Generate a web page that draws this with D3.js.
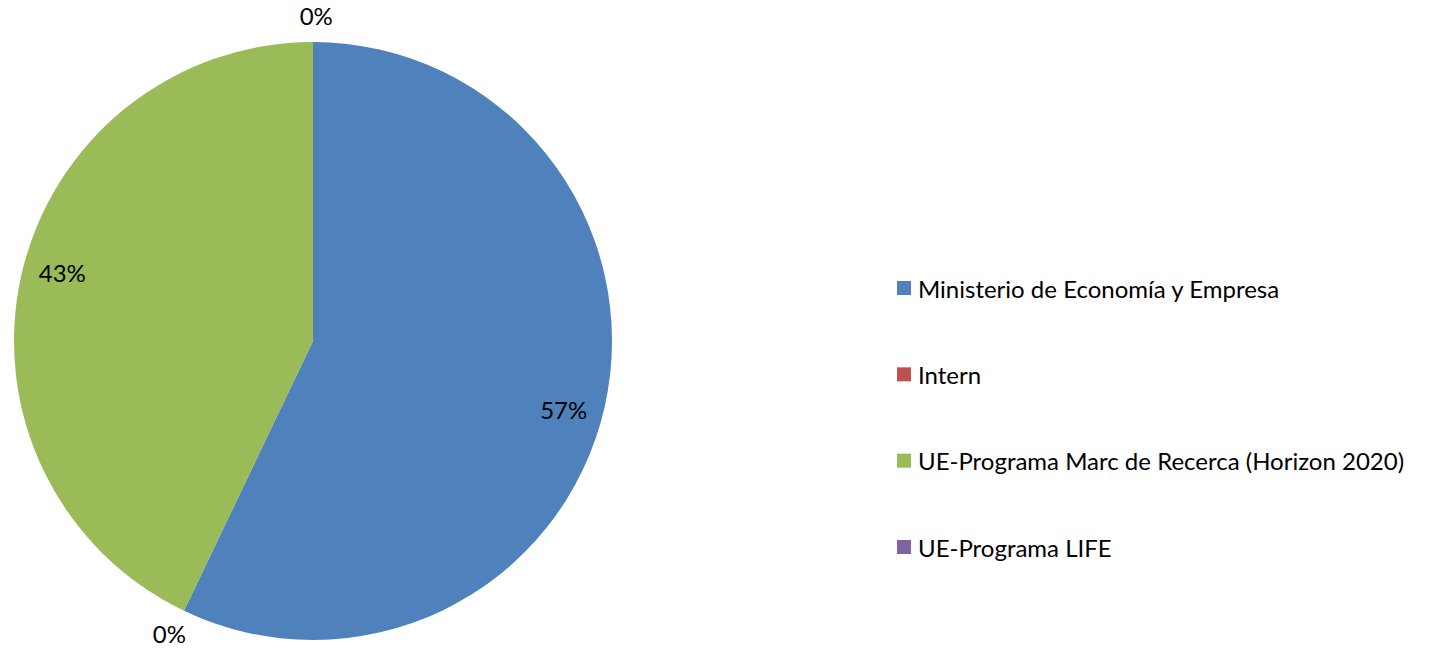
<!DOCTYPE html>
<html>
<head>
<meta charset="utf-8">
<script src="https://cdn.jsdelivr.net/npm/d3@7"></script>
<style>
  html, body { margin: 0; padding: 0; background: #fff; }
  svg { display: block; }
  text { font-family: Lato, "Open Sans", "Liberation Sans", sans-serif; fill: #000; }
</style>
</head>
<body>
<svg id="chart" width="1432" height="649"></svg>
<script>
const categories = [
  "Ministerio de Economía y Empresa",
  "Intern",
  "UE-Programa Marc de Recerca (Horizon 2020)",
  "UE-Programa LIFE"
];
const values = [57.1, 0, 42.9, 0];
const colors = ["#4F81BD", "#C0504D", "#9BBB59", "#8064A2"];

const svg = d3.select("#chart");
const cx = 313, cy = 341, R = 299;
const fontSize = 24;

const data = categories.map((c, i) => ({ name: c, value: values[i], color: colors[i] }));
const total = d3.sum(values);

const pie = d3.pie().sort(null).value(d => d.value);
const arcs = pie(data);
const arc = d3.arc().innerRadius(0).outerRadius(R);

const g = svg.append("g").attr("transform", `translate(${cx},${cy})`);
g.selectAll("path.slice")
  .data(arcs)
  .enter().append("path")
  .attr("class", "slice")
  .attr("d", arc)
  .attr("fill", d => d.data.color);

// data labels (inside slices near the rim, outside for empty slices)
function labelPos(d) {
  const inside = d.data.value > 0;
  const r = inside ? 260 : 326;
  const a = (d.startAngle + d.endAngle) / 2 + (inside ? 0.045 : 0.01);
  return [r * Math.sin(a), -r * Math.cos(a)];
}
g.selectAll("text.lbl")
  .data(arcs)
  .enter().append("text")
  .attr("class", "lbl")
  .attr("transform", d => `translate(${labelPos(d)})`)
  .attr("text-anchor", "middle")
  .attr("dominant-baseline", "central")
  .style("font-size", fontSize + "px")
  .text(d => Math.round(d.data.value / total * 100) + "%");

// legend
const legendY = d3.scalePoint().domain(categories).range([288, 547]);
const lg = svg.append("g");
const item = lg.selectAll("g.item")
  .data(data)
  .enter().append("g")
  .attr("class", "item")
  .attr("transform", d => `translate(897,${legendY(d.name)})`);
item.append("rect")
  .attr("x", 0).attr("y", -7)
  .attr("width", 14).attr("height", 14)
  .attr("fill", d => d.color);
item.append("text")
  .attr("x", 21)
  .attr("y", 0)
  .attr("dominant-baseline", "central")
  .style("font-size", fontSize + "px")
  .text(d => d.name);
</script>
</body>
</html>
